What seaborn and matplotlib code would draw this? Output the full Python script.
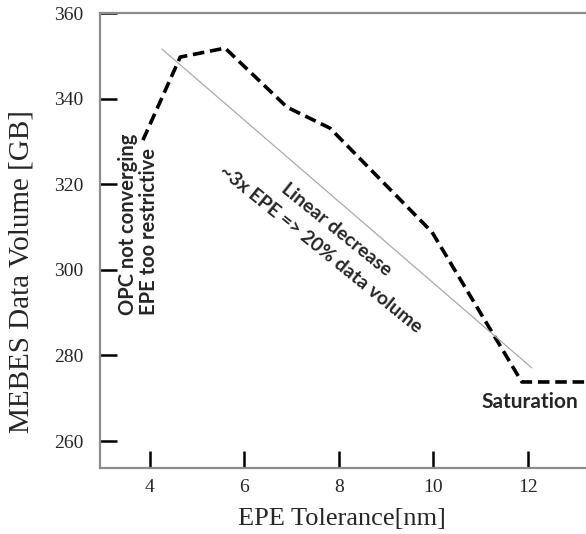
import numpy as np
import pandas as pd
import seaborn as sns
import matplotlib.pyplot as plt

# values
epe_tol = [3.85, 4.64, 5.59, 6.90, 7.81, 9.97, 11.87, 13.4]
data_volume = [330.3, 349.7, 351.8, 338.0, 333.1, 308.8, 273.8, 273.8]
trend_x = [4.25, 12.08]
trend_y = [351.6, 277.1]
x_ticks = [4, 6, 8, 10, 12]
y_ticks = [260, 280, 300, 320, 340, 360]

df = pd.DataFrame({'EPE': epe_tol, 'Volume': data_volume})

sns.set_style('white')
plt.rcParams['font.family'] = ['Liberation Serif', 'DejaVu Serif']

fig = plt.figure(figsize=(5.86, 5.34), dpi=100)
ax = fig.add_axes([100 / 586, (534 - 468) / 534, 486 / 586, 455 / 534])

sns.lineplot(data=df, x='EPE', y='Volume', ax=ax, color='black',
             linewidth=2.6, dashes=False)
ax.lines[0].set_dashes([3.2, 1.6])
sns.lineplot(x=trend_x, y=trend_y, ax=ax, color='#aaaaaa', linewidth=0.9)

ax.set_xlim(2.942, 13.228)
ax.set_ylim(253.7, 360)
ax.set_xticks(x_ticks)
ax.set_yticks(y_ticks)
ax.tick_params(axis='both', direction='in', length=12, width=1.8, color='black',
               labelsize=14, bottom=True, left=True)
ax.tick_params(axis='y', pad=12)
ax.tick_params(axis='x', pad=8)

for side in ['left', 'top', 'bottom']:
    ax.spines[side].set_color('#8c8c8c')
    ax.spines[side].set_linewidth(1.6)
ax.spines['right'].set_visible(False)

ax.set_xlabel('EPE Tolerance[nm]', fontsize=19)
ax.set_ylabel('MEBES Data Volume [GB]', fontsize=21)
ax.xaxis.set_label_coords(0.498, -0.088)
ax.yaxis.set_label_coords(-0.134, 0.431)

note = dict(fontfamily=['Lato', 'DejaVu Sans'], fontweight='bold',
            rotation_mode='anchor')
ax.text(3.535, 289.4, 'OPC not converging', rotation=90, ha='left', va='center',
        fontsize=14.5, **note)
ax.text(3.98, 289.4, 'EPE too restrictive', rotation=90, ha='left', va='center',
        fontsize=14.5, **note)
ax.text(7.94, 309.5, 'Linear decrease', rotation=-39, ha='center', va='center',
        fontsize=14, **note)
ax.text(7.62, 304.9, '~3x EPE => 20% data volume', rotation=-39, ha='center',
        va='center', fontsize=14, **note)
ax.text(12.03, 269.1, 'Saturation', ha='center', va='center', fontsize=15, **note)

fig.savefig('out.png', dpi=100)
